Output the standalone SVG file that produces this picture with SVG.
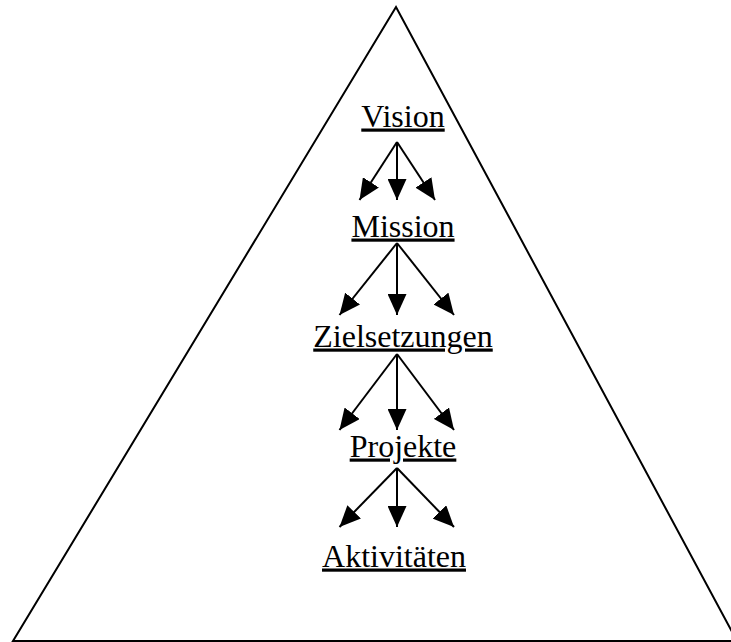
<svg xmlns="http://www.w3.org/2000/svg" width="731" height="642" viewBox="0 0 731 642">
  <style>
    .lbl { font-family: "Liberation Serif", "Times New Roman", serif; font-size: 32px; fill: #000; text-anchor: middle; text-decoration: underline; }
    .edge { stroke: #000; stroke-width: 2; fill: none; marker-end: url(#ah); }
    .frame { stroke: #000; stroke-width: 2; fill: #fff; stroke-linejoin: miter; }
  </style>
  <defs>
    <marker id="ah" markerUnits="userSpaceOnUse" viewBox="0 0 21 19" markerWidth="21" markerHeight="19" refX="21" refY="9.5" orient="auto">
      <path d="M0,0 L21,9.5 L0,19 z" fill="#000"/>
    </marker>
  </defs>
  <rect width="731" height="642" fill="#fff"/>
  <g id="pyramid">
    <polygon class="frame" points="396,7 13,641 737,641"/>
  </g>
  <g id="connectors">
    <line class="edge" x1="397" y1="142" x2="359.5" y2="200"/>
    <line class="edge" x1="397" y1="142" x2="397" y2="200"/>
    <line class="edge" x1="397" y1="142" x2="435" y2="200"/>
    <line class="edge" x1="397" y1="243" x2="339.5" y2="315"/>
    <line class="edge" x1="397" y1="243" x2="397" y2="315"/>
    <line class="edge" x1="397" y1="243" x2="454" y2="315"/>
    <line class="edge" x1="397" y1="354" x2="339.5" y2="430"/>
    <line class="edge" x1="397" y1="354" x2="397" y2="430"/>
    <line class="edge" x1="397" y1="354" x2="454" y2="430"/>
    <line class="edge" x1="397" y1="468" x2="339.5" y2="527"/>
    <line class="edge" x1="397" y1="468" x2="397" y2="527"/>
    <line class="edge" x1="397" y1="468" x2="454" y2="527"/>
  </g>
  <g id="vision"><text class="lbl" x="403" y="126.5">Vision</text></g>
  <g id="mission"><text class="lbl" x="403" y="236.5">Mission</text></g>
  <g id="zielsetzungen"><text class="lbl" x="403" y="346.5">Zielsetzungen</text></g>
  <g id="projekte"><text class="lbl" x="403" y="456.5">Projekte</text></g>
  <g id="aktivitaeten"><text class="lbl" x="394" y="566.5">Aktivitäten</text></g>
</svg>
